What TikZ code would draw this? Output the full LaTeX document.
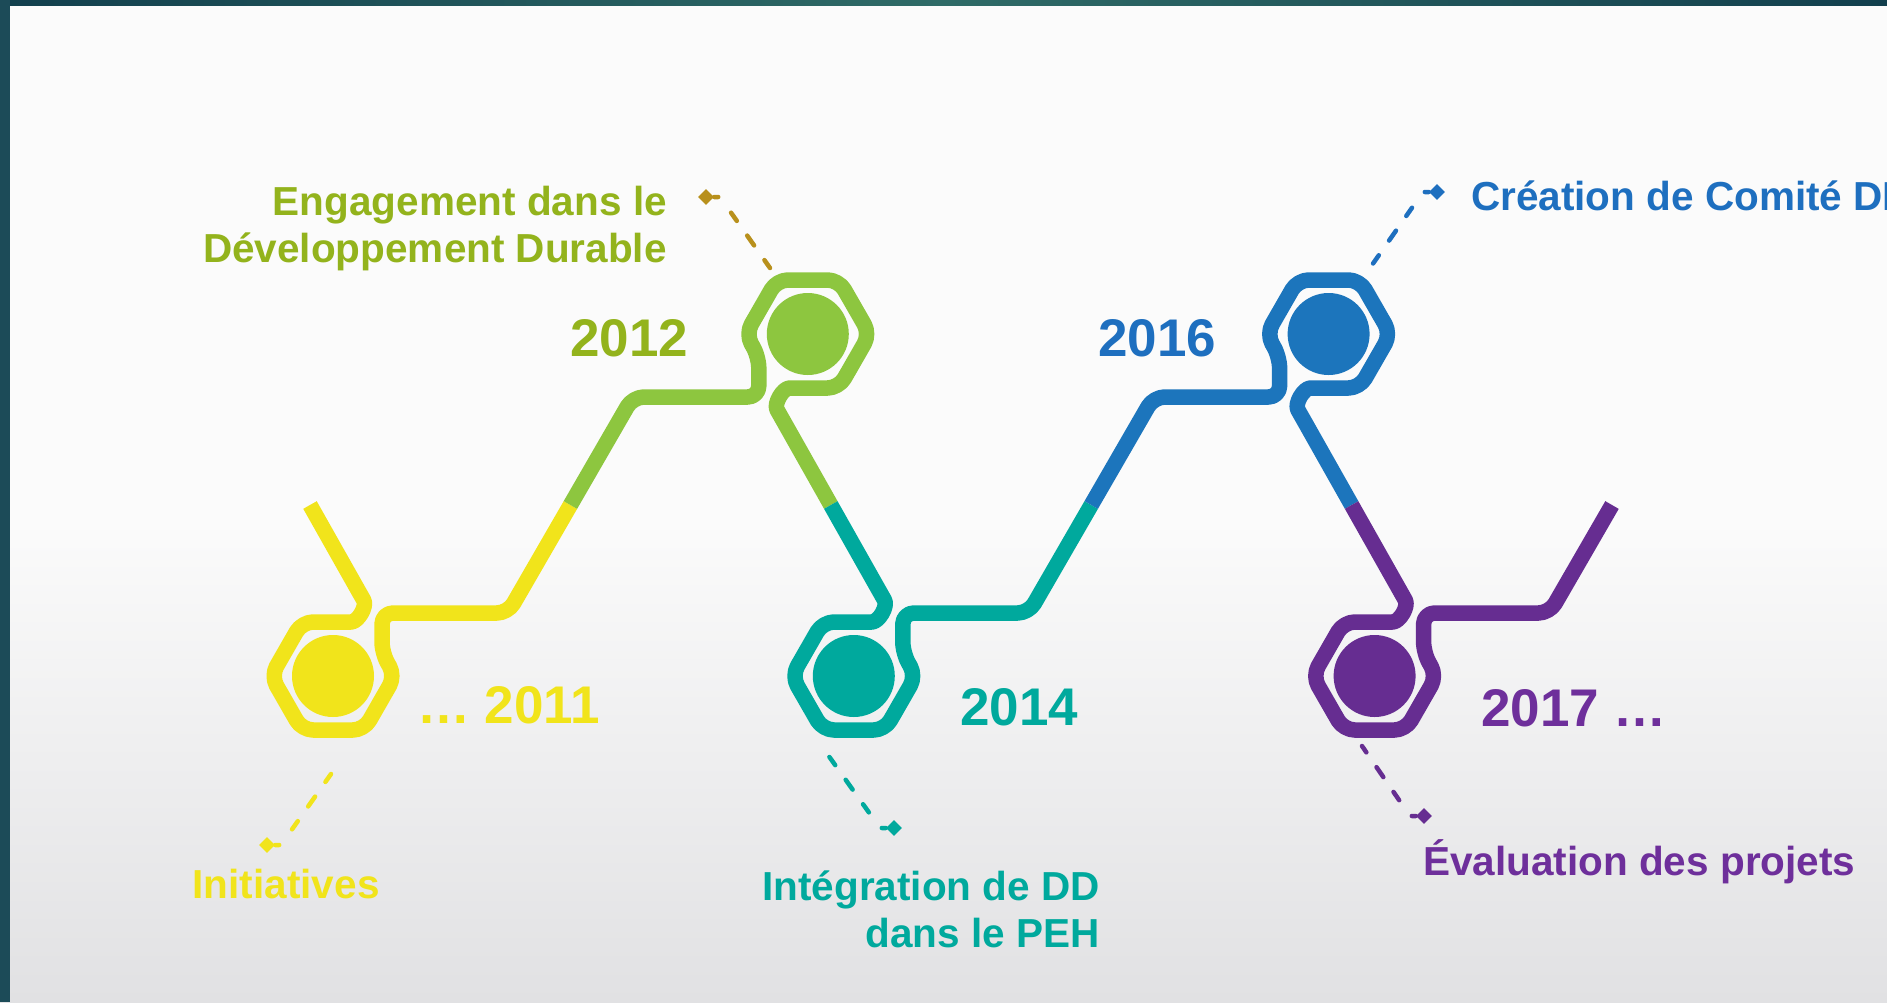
\documentclass[tikz,border=0pt]{standalone}
\usepackage{fontspec}
\setmainfont{Liberation Sans}
\usetikzlibrary{shapes.geometric}
\definecolor{cyel}{HTML}{F1E41B}
\definecolor{cgrn}{HTML}{8DC63F}
\definecolor{cgrnt}{HTML}{93B31C}
\definecolor{cgold}{HTML}{B8901C}
\definecolor{cteal}{HTML}{00A99D}
\definecolor{cblue}{HTML}{1C75BC}
\definecolor{cbluet}{HTML}{1E6FBF}
\definecolor{cpur}{HTML}{662D91}
\definecolor{cpurt}{HTML}{6E2F9B}
\definecolor{frameA}{HTML}{123F4D}
\definecolor{frameB}{HTML}{2F6B67}
\definecolor{frameL}{HTML}{1C4B58}
\definecolor{bgtop}{HTML}{FBFBFB}
\definecolor{bgbot}{HTML}{E1E1E3}
\tikzset{
  tlpiece/.pic={
    \draw[line width=15.5pt, line cap=butt, line join=round, rounded corners=11pt]
      (-23,-171) -- (25.3,-85.4) .. controls (34.2,-69.7) and (25,-54) .. (7,-54)
      -- (-31,-54) -- (-62,0) -- (-31,54) -- (31,54) -- (62,0)
      -- (49,-23) -- (49,-63) -- (175,-63) -- (237.4,-171);
    \fill (0,0) circle[radius=41pt];
  },
  conn/.style={line width=4.5pt, line cap=round,
    dash pattern=on 4pt off 21pt on 10pt off 18pt on 12pt off 18pt on 10pt off 40pt},
  dia/.style={diamond, fill, draw=none, inner sep=0pt, minimum width=16pt, minimum height=16pt},
  lbl/.style={font=\fontsize{40.5}{48}\selectfont\bfseries, inner sep=0pt},
  yr/.style={font=\fontsize{53}{60}\selectfont\bfseries, inner sep=0pt}
}
\begin{document}
\begin{tikzpicture}[x=1pt, y=-1pt]
\useasboundingbox (0,0) rectangle (1887,1002);
\clip (0,0) rectangle (1887,1002);
% background
\fill[bgtop] (0,0) rectangle (1887,520);
\shade[top color=bgtop, bottom color=bgbot] (0,520) rectangle (1887,1002);
\shade[left color=frameA, right color=frameA, middle color=frameB] (0,0) rectangle (1887,5);
\fill[frameL] (0,0) rectangle (10,1002);

% timeline pieces
\pic[color=cyel] at (333,676) {tlpiece};
\pic[color=cgrn, rotate=180] at (807.8,334) {tlpiece};
\pic[color=cteal] at (853.8,676) {tlpiece};
\pic[color=cblue, rotate=180] at (1328.6,334) {tlpiece};
\pic[color=cpur] at (1374.6,676) {tlpiece};

% connectors
\coordinate (ye) at (331,774); \coordinate (yb) at (281,845);
\node[dia, cyel] (yd) at (267,845) {};
\draw[conn, cyel] (yd) -- (yb) -- (ye);

\coordinate (ge) at (770,268); \coordinate (gb) at (720,197);
\node[dia, cgold] (gd) at (706,197) {};
\draw[conn, cgold] (gd) -- (gb) -- (ge);

\coordinate (te) at (828,755); \coordinate (tb) at (880,828);
\node[dia, cteal] (td) at (894,828) {};
\draw[conn, cteal] (td) -- (tb) -- (te);

\coordinate (be) at (1372,265); \coordinate (bb) at (1423,192);
\node[dia, cbluet] (bd) at (1437,192) {};
\draw[conn, cbluet] (bd) -- (bb) -- (be);

\coordinate (pe) at (1362,746); \coordinate (pb) at (1410,816);
\node[dia, cpur] (pd) at (1424,816) {};
\draw[conn, cpur] (pd) -- (pb) -- (pe);

% years
\node[yr, cyel, anchor=base west] (y2011) at (417,723) {… 2011};
\node[yr, cgrnt, anchor=base west] (y2012) at (570,356) {2012};
\node[yr, cteal, anchor=base west] (y2014) at (960,725) {2014};
\node[yr, cbluet, anchor=base west] (y2016) at (1098,356) {2016};
\node[yr, cpurt, anchor=base west] (y2017) at (1481,726) {2017 …};

% labels
\node[lbl, cgrnt, anchor=base east] (eng1) at (667,215) {Engagement dans le};
\node[lbl, cgrnt, anchor=base east] (eng2) at (667,262) {Développement Durable};
\node[lbl, cyel, anchor=base west] (ini) at (192.5,898) {Initiatives};
\node[lbl, cteal, anchor=base east] (int1) at (1100,900) {Intégration de DD};
\node[lbl, cteal, anchor=base east] (int2) at (1100,947) {dans le PEH};
\node[lbl, cbluet, anchor=base west] (cre) at (1471,210) {Création de Comité DD};
\node[lbl, cpurt, anchor=base west] (eva) at (1423,875) {Évaluation des projets};
\end{tikzpicture}
\end{document}
